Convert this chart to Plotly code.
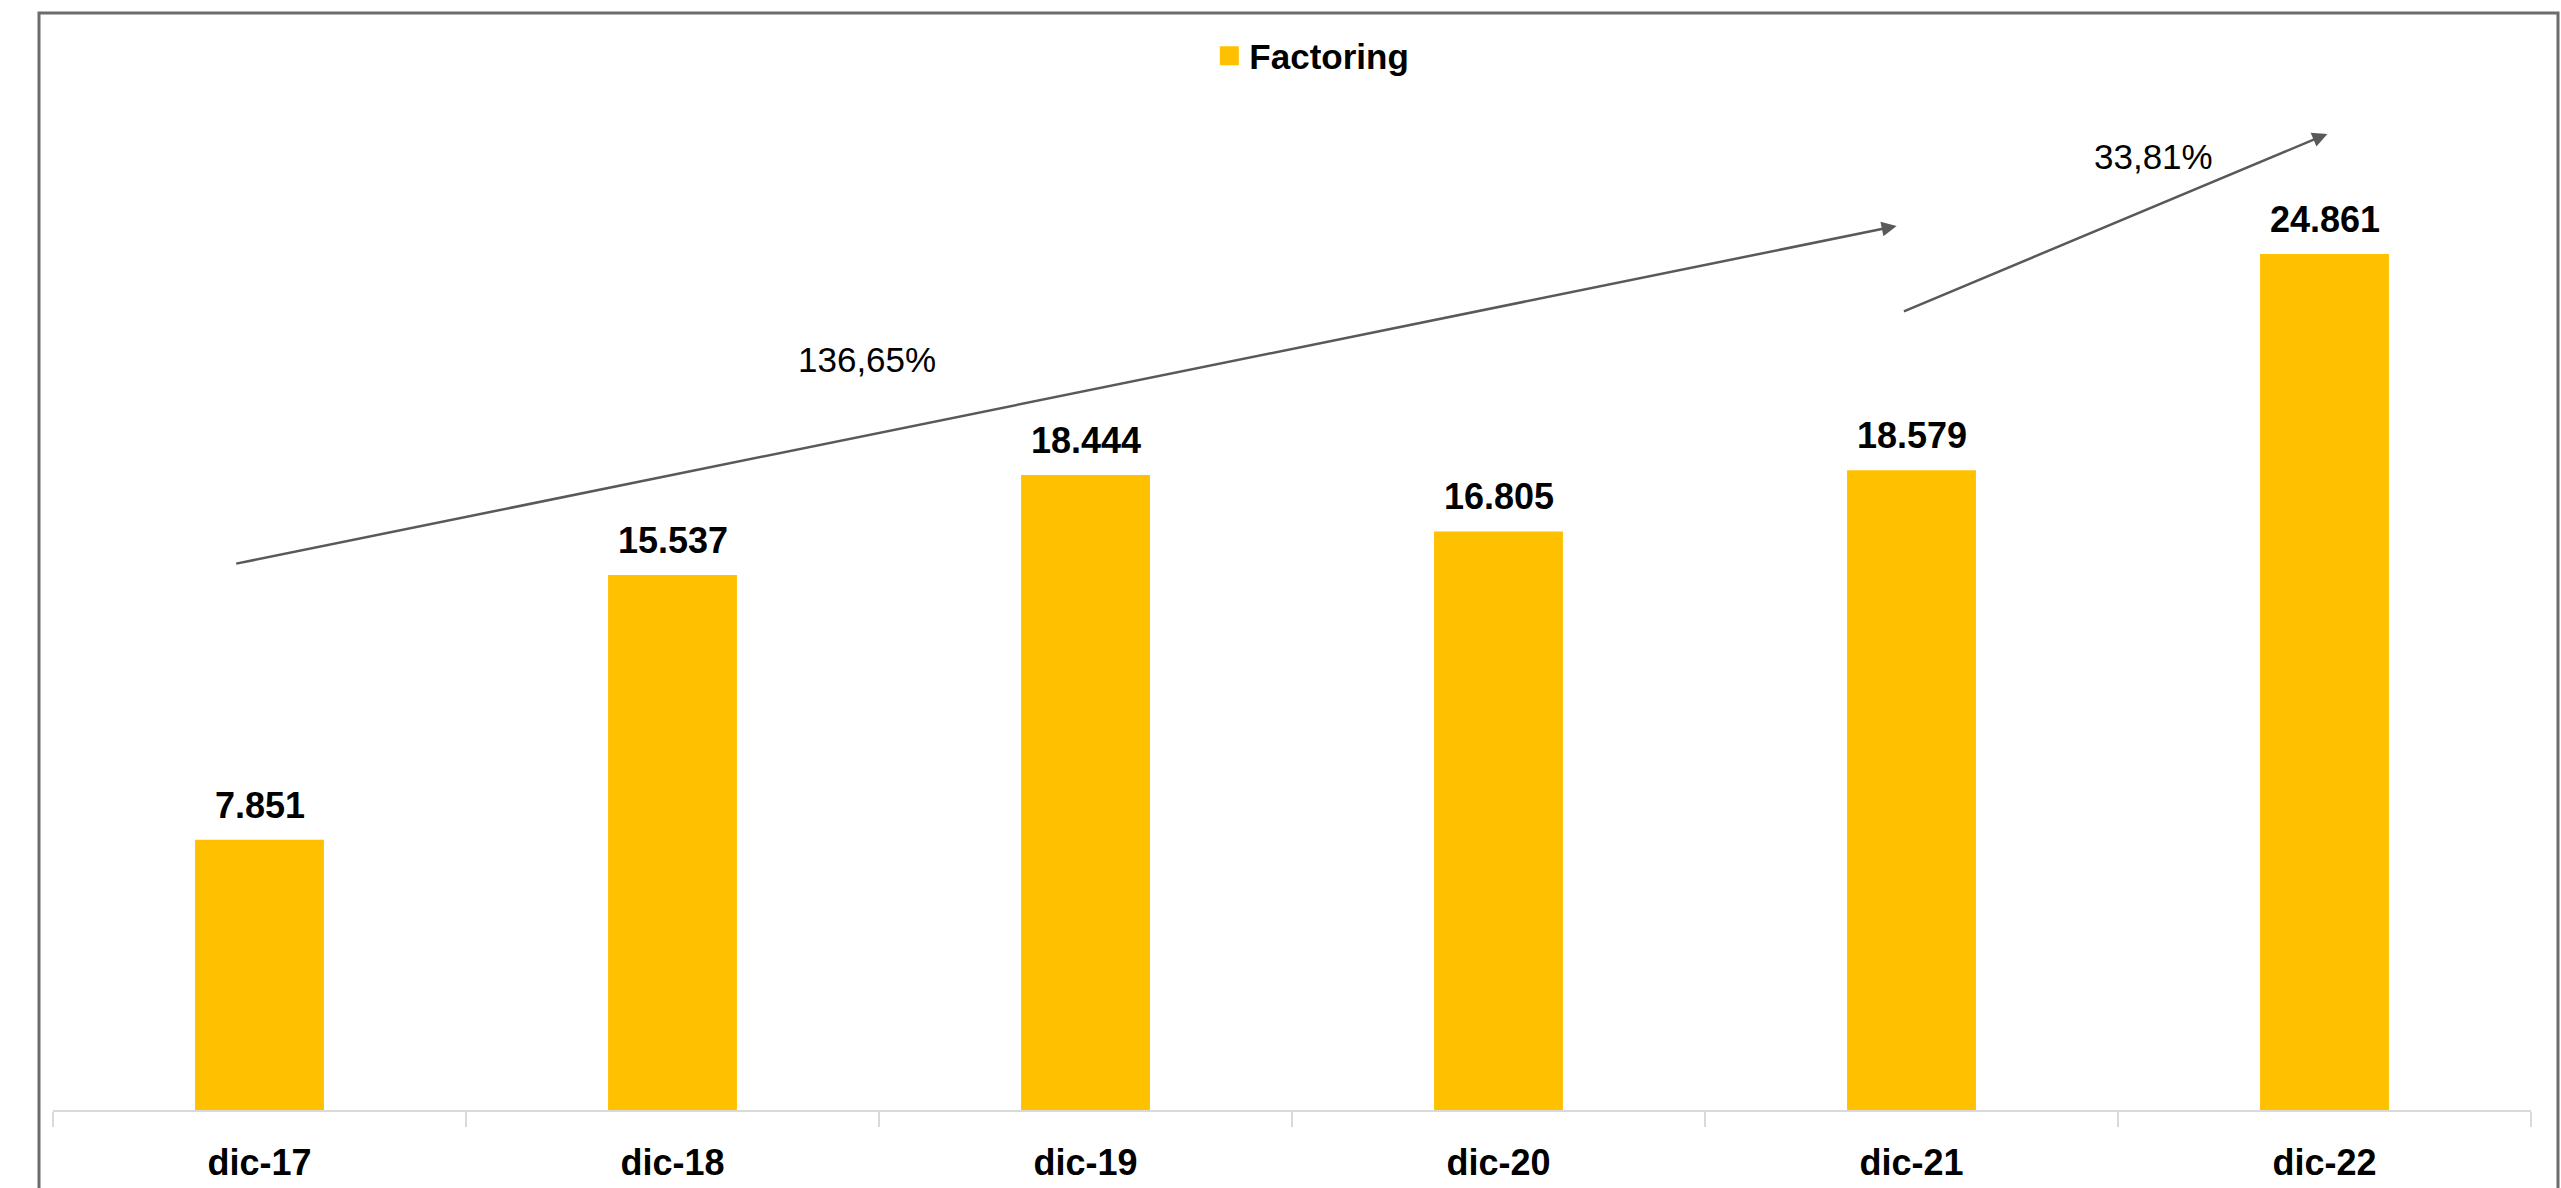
import plotly.graph_objects as go

categories = ["dic-17", "dic-18", "dic-19", "dic-20", "dic-21", "dic-22"]
values = [7851, 15537, 18444, 16805, 18579, 24861]
value_labels = ["7.851", "15.537", "18.444", "16.805", "18.579", "24.861"]
series_name = "Factoring"

growth_labels = ["136,65%", "33,81%"]
# arrows: (x_start, y_start, x_end, y_end) in category-index / value units
growth_arrows = [(-0.06, 15860, 3.964, 25675), (3.978, 23180, 5.007, 28350)]
growth_label_pos = [(1.47, 21810), (4.586, 27680)]

W, H = 2561, 1188
ML, MR, MT, MB = 53, 30, 100, 78
plot_w = W - ML - MR
plot_h = H - MT - MB

FONT = "Liberation Sans, Arial, sans-serif"
BAR = "#FFC000"
ARROW = "#595959"

fig = go.Figure()
fig.add_trace(go.Bar(
    x=categories, y=values, name=series_name, showlegend=False,
    marker=dict(color=BAR, line=dict(width=0)),
    cliponaxis=False,
))
# legend entry with a larger square swatch
fig.add_trace(go.Scatter(
    x=[categories[0]], y=[None], name=series_name, mode="markers",
    marker=dict(symbol="square", size=16, color=BAR, line=dict(color=BAR, width=3)),
    showlegend=True, hoverinfo="skip",
))

# value labels above bars
for c, v, lbl in zip(categories, values, value_labels):
    fig.add_annotation(
        x=c, y=v, xref="x", yref="y", text=lbl, showarrow=False,
        font=dict(family=FONT, size=36, color="#000000", weight="bold"),
        xanchor="center", yanchor="bottom", yshift=12,
    )

for (x0, y0, x1, y1) in growth_arrows:
    fig.add_annotation(
        x=x1, y=y1, ax=x0, ay=y0, xref="x", yref="y", axref="x", ayref="y",
        text="", showarrow=True, arrowhead=2, arrowsize=1.2, arrowwidth=2.5,
        arrowcolor=ARROW, standoff=0, startstandoff=0,
    )
for lbl, (x, y) in zip(growth_labels, growth_label_pos):
    fig.add_annotation(
        x=x, y=y, xref="x", yref="y", text=lbl, showarrow=False,
        font=dict(family=FONT, size=35, color="#000000"),
        xanchor="center", yanchor="middle",
    )

def px_to_paper_x(px):
    return (px - ML) / plot_w

def px_to_paper_y(py):
    return (H - MB - py) / plot_h

fig.add_shape(
    type="rect", xref="paper", yref="paper",
    x0=px_to_paper_x(39), x1=px_to_paper_x(2558),
    y0=px_to_paper_y(1200), y1=px_to_paper_y(13),
    line=dict(color="#6d6d6d", width=3), fillcolor="rgba(0,0,0,0)", layer="below",
)

y_max = plot_h / 0.03443

fig.update_layout(
    width=W, height=H,
    margin=dict(l=ML, r=MR, t=MT, b=MB, pad=0, autoexpand=False),
    paper_bgcolor="white", plot_bgcolor="white",
    bargap=0.688,
    showlegend=True,
    legend=dict(
        orientation="h", x=0.508, xanchor="center",
        y=px_to_paper_y(56), yanchor="middle",
        font=dict(family=FONT, size=35, color="#000000", weight="bold"),
        itemwidth=30, bgcolor="rgba(0,0,0,0)",
    ),
    xaxis=dict(
        type="category", tickson="boundaries", ticks="outside", ticklen=15,
        tickcolor="#d9d9d9", tickwidth=2, showline=True, linecolor="#d9d9d9",
        linewidth=2, showgrid=False, zeroline=False, ticklabelstandoff=20,
        automargin=False,
        tickfont=dict(family=FONT, size=36, color="#000000", weight="bold"),
    ),
    yaxis=dict(visible=False, range=[0, y_max], showgrid=False, zeroline=False),
    font=dict(family=FONT),
)

fig.write_html("out.html")
